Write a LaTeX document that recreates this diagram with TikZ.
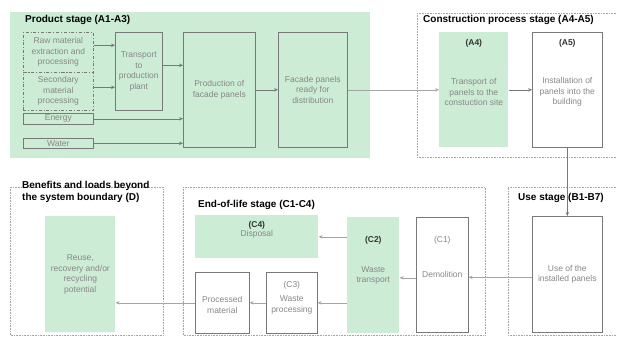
\documentclass[tikz,border=0pt]{standalone}
\usepackage{fontspec}
\setmainfont{Liberation Sans}
\usetikzlibrary{arrows.meta}
\definecolor{mint}{RGB}{204,236,214}
\definecolor{boxline}{RGB}{120,120,120}
\definecolor{txtgray}{RGB}{135,135,135}
\definecolor{stageline}{RGB}{165,165,165}
\tikzset{
  box/.style={draw=boxline, line width=0.6pt, anchor=north west, inner sep=0pt, align=center,
    text=txtgray, font=\fontsize{8.5}{10.5}\selectfont},
  gbox/.style={box, fill=mint},
  dbox/.style={box, dash dot},
  hdr/.style={font=\bfseries\fontsize{8.5}{10.5}\selectfont, text=black!80, inner sep=0pt},
  hdrg/.style={font=\fontsize{8.5}{10.5}\selectfont, text=txtgray, inner sep=0pt},
  title/.style={font=\bfseries\fontsize{10}{11.5}\selectfont, anchor=base west, align=left, inner sep=0pt},
  stage/.style={draw=stageline, densely dotted, line width=0.6pt},
  arr/.style={draw=boxline, line width=0.6pt, -{Stealth[length=4pt,width=3.5pt]}},
  arrl/.style={draw=stageline, line width=0.6pt, -{Stealth[length=4pt,width=3.5pt]}},
}
\begin{document}
\begin{tikzpicture}[x=1pt,y=-1pt]
\useasboundingbox (0,0) rectangle (617,337);
% stage backgrounds
\fill[mint] (10,12) rectangle (370,158);
\draw[stage] (417,13) -- (616,13) (417,13) -- (417,157) -- (616,157);
\draw[stage] (10,187) rectangle (163,335);
\draw[stage] (183,187) rectangle (485,335);
\draw[stage] (616,187) -- (508,187) -- (508,335) -- (616,335);
% titles
\node[title] (t1) at (25,23) {Product stage (A1-A3)};
\node[title] (t2) at (423,23) {Construction process stage (A4-A5)};
\node[title] (t3) at (22,200) {Benefits and loads beyond\\[0.5pt]the system boundary (D)};
\node[title] (t4) at (198,207) {End-of-life stage (C1-C4)};
\node[title] (t5) at (518,200) {Use stage (B1-B7)};
% product stage
\node[dbox, minimum width=70pt, minimum height=40pt] (raw) at (23,32) {Raw material\\extraction and\\processing};
\node[dbox, minimum width=70pt, minimum height=38pt] (sec) at (23,72) {Secondary\\material\\processing};
\node[box, minimum width=70pt, minimum height=11pt] (en) at (23,113) {Energy};
\node[box, minimum width=70pt, minimum height=10pt] (wa) at (23,138) {Water};
\node[box, minimum width=47pt, minimum height=78pt] (tr) at (115,32) {Transport\\to\\production\\plant};
\node[box, minimum width=72pt, minimum height=115pt] (prod) at (183,32) {Production of\\facade panels};
\node[box, minimum width=69pt, minimum height=115pt] (fac) at (278,32) {Facade panels\\ready for\\distribution};
% construction
\node[gbox, draw=none, minimum width=69pt, minimum height=115pt] (a4) at (439,32) {\\Transport of\\panels to the\\constuction site};
\node[hdr] (a4h) at ([yshift=-11pt]a4.north) {(A4)};
\node[box, minimum width=70pt, minimum height=115pt] (a5) at (532,32) {\\Installation of\\panels into the\\building};
\node[hdr] (a5h) at ([yshift=-11pt]a5.north) {(A5)};
% use
\node[box, minimum width=70pt, minimum height=116pt] (use) at (532,216) {Use of the\\installed panels};
% end of life
\node[gbox, draw=none, minimum width=123pt, minimum height=43pt] (c4) at (195,215) {};
\node[align=center, inner sep=0pt, font=\fontsize{8.5}{8.5}\selectfont, text=txtgray] (c4t) at ([yshift=7pt]c4.center) {\textbf{\color{black!80}(C4)}\\Disposal};
\node[gbox, draw=none, minimum width=52pt, minimum height=116pt] (c2) at (347,217) {Waste\\transport};
\node[hdr] (c2h) at ([yshift=-23pt]c2.north) {(C2)};
\node[box, minimum width=52pt, minimum height=115pt] (c1) at (416,217) {Demolition};
\node[hdrg] (c1h) at ([yshift=-23pt]c1.north) {(C1)};
\node[box, minimum width=51pt, minimum height=61pt] (c3) at (266,272) {\\Waste\\processing};
\node[hdrg] (c3h) at ([yshift=-13pt]c3.north) {(C3)};
\node[box, minimum width=54pt, minimum height=61pt] (pm) at (195,272) {\\Processed\\material};
% benefits
\node[gbox, draw=none, minimum width=70pt, minimum height=116pt] (re) at (45,216) {Reuse,\\recovery and/or\\recycling\\potential};
% arrows product stage
\draw[arr] ([yshift=7pt]raw.east) -- ([yshift=7pt]raw.east -| tr.west);
\draw[arr] ([yshift=4pt]sec.east) -- ([yshift=4pt]sec.east -| tr.west);
\draw[arr] ([yshift=6pt]tr.east) -- ([yshift=6pt]tr.east -| prod.west);
\draw[arr] (en.east) -- (en.east -| prod.west);
\draw[arr] (wa.east) -- (wa.east -| prod.west);
\draw[arr] (prod.east) -- (fac.west);
\draw[arrl] (fac.east) -- (a4.west);
\draw[arr] (a4.east) -- (a5.west);
\draw[arr] (a5.south) -- (use.north);
% arrows bottom
\draw[arrl] ([yshift=-3pt]use.west) -- ([yshift=-3pt]use.west -| c1.east);
\draw[arrl] ([yshift=-3pt]c1.west) -- ([yshift=-3pt]c1.west -| c2.east);
\draw[arrl] (c4.east -| c2.west) -- (c4.east);
\draw[arrl] (c3.east -| c2.west) -- (c3.east);
\draw[arrl] (c3.west) -- (pm.east);
\draw[arrl] (pm.west) -- (pm.west -| re.east);
\end{tikzpicture}
\end{document}
